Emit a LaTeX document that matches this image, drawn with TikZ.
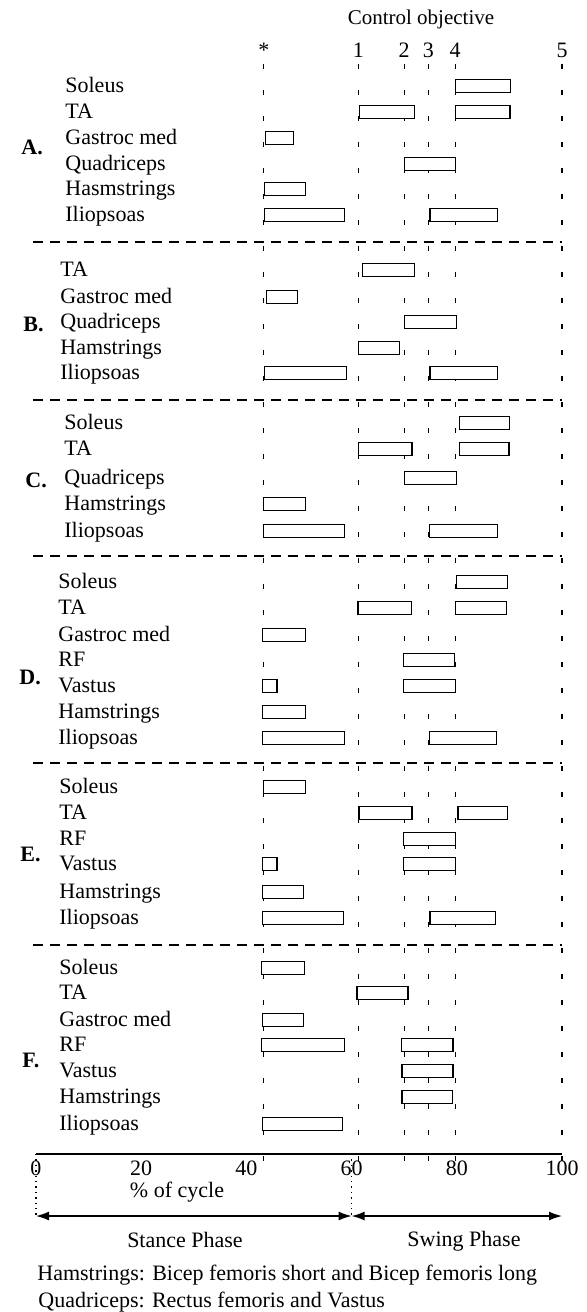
\documentclass[tikz,border=0pt]{standalone}
\usepackage{fontspec}
\setmainfont{Liberation Serif}
\usetikzlibrary{positioning}
\usetikzlibrary{arrows.meta}

\begin{document}
\begin{tikzpicture}[x=0.5pt, y=-0.5pt, font=\fontsize{11}{13}\selectfont]

\tikzstyle{m} = [anchor=base west, inner sep=0pt]
\tikzstyle{sec} = [anchor=base west, inner sep=0pt, font=\fontsize{11}{13}\selectfont\bfseries]
\tikzstyle{num} = [anchor=base, inner sep=0pt]
\tikzstyle{bx} = [draw, fill=white, line width=0.65pt]
\tikzstyle{ctl} = [line width=0.65pt, dash pattern=on 2.5pt off 10.5pt]
\tikzstyle{sep} = [line width=0.55pt, dash pattern=on 5pt off 3.5pt]
\tikzstyle{tip} = [{Latex[length=6.5pt,width=4.5pt]}-{Latex[length=6.5pt,width=4.5pt]}, line width=0.7pt]

\useasboundingbox (0,0) rectangle (586,1312);

\node[font=\fontsize{10.5}{12}\selectfont] (co) at (421,19) {Control objective};

% muscle labels
\node[sec] (A) at (21,154) {A.};
\foreach \m/\y [count=\i] in {Soleus/86, TA/112, Gastroc med/138, Quadriceps/164, Hasmstrings/189, Iliopsoas/215}
    \node[m] (A\i) at (65,\y+6) {\m};
\node[sec] (B) at (23,331) {B.};
\foreach \m/\y [count=\i] in {TA/270, Gastroc med/297, Quadriceps/322, Hamstrings/348, Iliopsoas/373}
    \node[m] (B\i) at (60,\y+6) {\m};
\node[sec] (C) at (25,487) {C.};
\foreach \m/\y [count=\i] in {Soleus/423, TA/449, Quadriceps/478, Hamstrings/504, Iliopsoas/531}
    \node[m] (C\i) at (64,\y+6) {\m};
\node[sec] (D) at (19,684) {D.};
\foreach \m/\y [count=\i] in {Soleus/582, TA/608, Gastroc med/635, RF/660, Vastus/686, Hamstrings/712, Iliopsoas/738}
    \node[m] (D\i) at (58,\y+6) {\m};
\node[sec] (E) at (20,861) {E.};
\foreach \m/\y [count=\i] in {Soleus/787, TA/813, RF/839, Vastus/864, Hamstrings/892, Iliopsoas/918}
    \node[m] (E\i) at (59,\y+6) {\m};
\node[sec] (F) at (22,1067) {F.};
\foreach \m/\y [count=\i] in {Soleus/968, TA/993, Gastroc med/1020, RF/1045, Vastus/1071, Hamstrings/1097, Iliopsoas/1124}
    \node[m] (F\i) at (59,\y+6) {\m};

% percent of cycle: 0 at 36px, 100 at 562px
\begin{scope}[x=2.63pt, xshift=18pt]
\foreach \p/\t [count=\i] in {43.3/*, 61.3/1, 70/2, 74.6/3, 79.7/4, 100/5} {
    \node[num] (n\i) at (\p,57) {\t};
    \draw[ctl] (\p,64) -- (\p,1161);
}
\foreach \y in {242,400,556,763,945}
    \draw[sep] (-0.6,\y) -- (100,\y);

% activity bars
\foreach \y/\p/\q in {86/79.7/90.2, 112/61.5/71.9, 112/79.7/90.1, 138/43.6/48.9,
    164/70.1/79.7, 189/43.5/51.2, 215/43.4/58.7, 215/74.9/87.8,
    270/62.1/71.9, 297/43.8/49.7, 322/70.1/80.0, 348/61.3/69.1,
    373/43.4/59.0, 373/74.9/87.8,
    423/80.5/90.0, 449/61.3/71.5, 449/80.5/89.9, 478/70.0/80.0,
    504/43.2/51.3, 531/43.3/58.6, 531/74.8/87.7,
    582/80.0/89.6, 608/61.2/71.4, 608/79.7/89.4, 635/43.1/51.2,
    660/69.8/79.6, 686/43.1/45.8, 686/69.9/79.7, 712/43.1/51.2,
    738/43.0/58.6, 738/74.8/87.6,
    787/43.3/51.2, 813/61.4/71.5, 813/80.2/89.7, 839/69.9/79.8,
    864/43.1/45.8, 864/69.9/79.8, 892/43.1/50.8, 918/43.0/58.4, 918/74.9/87.4,
    968/42.9/51.0, 993/61.0/70.7, 1020/43.0/50.9, 1045/42.9/58.6,
    1045/69.5/79.3, 1071/69.6/79.3, 1097/69.6/79.2, 1124/43.0/58.3}
    \draw[bx] (\p,\y-6.5) rectangle (\q,\y+6.5);

% axis
\coordinate (a0) at (0,1154);
\coordinate (a60) at (60,1154);
\coordinate (a100) at (100,1154);
\draw[line width=0.7pt] (a0) -- (a100);
\foreach \v in {0,20,...,100}
    \node[num] (t\v) at (\v,1175) {\v};

% phases
\coordinate (s0) at (0,1216);
\coordinate (s60) at (60,1216);
\coordinate (s100) at (100,1216);
\draw[dotted, line width=0.7pt] (a0) -- (s0);
\draw[dotted, line width=0.7pt] (a60) -- (s60);
\draw[tip] (s0) -- (s60);
\draw[tip] (s60) -- (s100);
\end{scope}

\node (pc) at (177,1192) {\% of cycle};
\node (st) at (185,1240) {Stance Phase};
\node (sw) at (464,1241) {Swing Phase};
\node[m] (fn1) at (37,1280) {Hamstrings: Bicep femoris short and Bicep femoris long};
\node[m] (fn2) at (38,1307) {Quadriceps: Rectus femoris and Vastus};
\end{tikzpicture}
\end{document}
